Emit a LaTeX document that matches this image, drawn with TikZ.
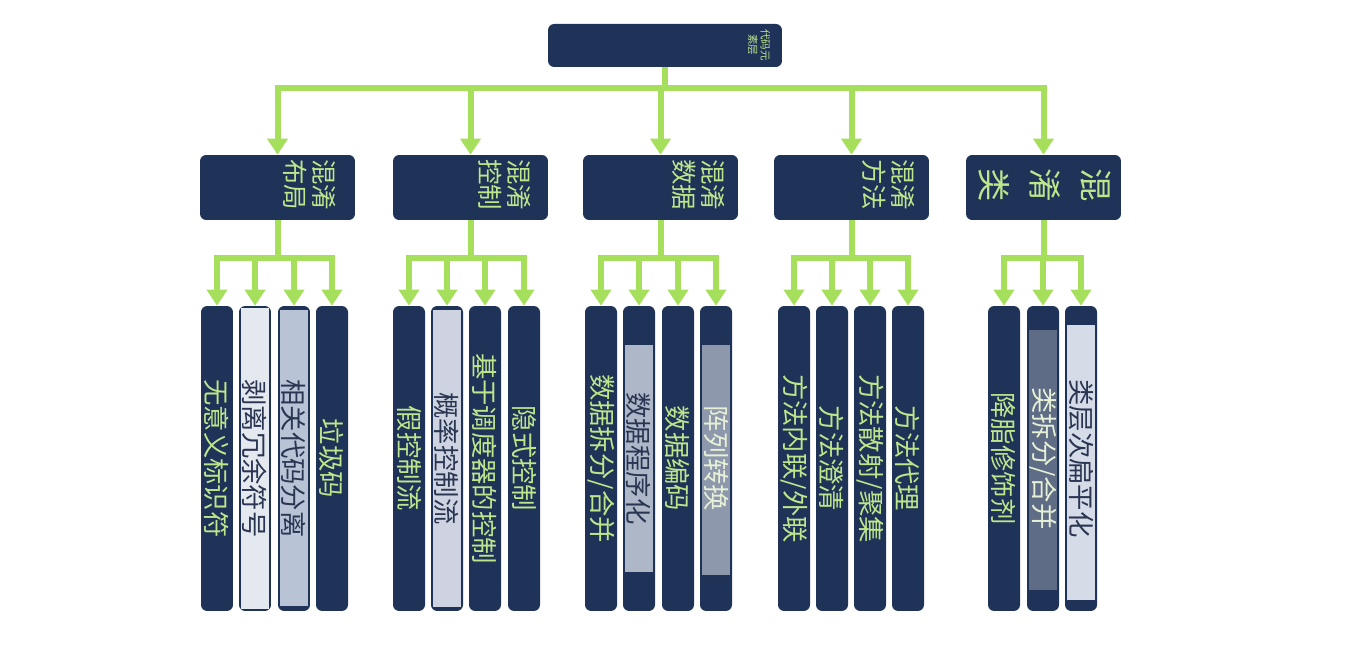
\documentclass[tikz,border=0pt]{standalone}
\usepackage{fontspec}
\newfontfamily\cjk{Noto Sans CJK SC}
\usetikzlibrary{arrows.meta}

\definecolor{navy}{HTML}{1F3257}
\definecolor{lime}{HTML}{A6DF5C}
\definecolor{limetext}{HTML}{BCE68C}
\definecolor{inkdark}{HTML}{2A3552}
\definecolor{paleA}{HTML}{E4E8EF}
\definecolor{paleB}{HTML}{B9C3D6}
\definecolor{paleC}{HTML}{CDD3E0}
\definecolor{paleD}{HTML}{AEB7C8}
\definecolor{greyE}{HTML}{8E98AC}
\definecolor{greyF}{HTML}{5F6C86}
\definecolor{paleG}{HTML}{D5DCE8}
\definecolor{lighttext}{HTML}{E6F0D6}

\tikzset{
    rootbox/.style={fill=navy, rounded corners=3.5pt, minimum width=4.68cm, minimum height=0.86cm, inner sep=0},
    catbox/.style={fill=navy, rounded corners=3.5pt, minimum width=3.1cm, minimum height=1.3cm, inner sep=0},
    leaf/.style={fill=navy, rounded corners=3.5pt, minimum width=0.64cm, minimum height=6.1cm, inner sep=0},
    vtext/.style={font=\cjk\fontsize{15}{17}\selectfont, rotate=-90, text=limetext, inner sep=0},
    cattext/.style={font=\cjk\fontsize{14.5}{16.5}\selectfont, rotate=-90, text=limetext, align=center, inner sep=0},
    link/.style={draw=lime, line width=0.12cm},
    arr/.style={link, -{Triangle[width=0.4cm,length=0.32cm]}}
}

\begin{document}
\begin{tikzpicture}[x=0.02cm, y=-0.02cm]
    \useasboundingbox (0,0) rectangle (1363,648);

    % 根节点
    \node[rootbox] (root) at (665,45.5) {};
    \node[cattext, font=\cjk\fontsize{6}{7}\selectfont] (root-t) at (759,45) {代码元\\素层};

    % 五个类别
    \node[catbox] (catA) at (277.5,187.5) {};
    \node[catbox] (catB) at (470.5,187.5) {};
    \node[catbox] (catC) at (660.5,187.5) {};
    \node[catbox] (catD) at (851.5,187.5) {};
    \node[catbox] (catE) at (1043.5,187.5) {};

    \node[cattext] (catA-t) at (310,185) {混淆\\布局};
    \node[cattext] (catB-t) at (505,185) {混淆\\控制};
    \node[cattext] (catC-t) at (699,185) {混淆\\数据};
    \node[cattext] (catD-t) at (889,185) {混淆\\方法};
    \node[cattext, font=\cjk\fontsize{19}{29}\selectfont] (catE-t) at (1045,185) {混\\淆\\类};

    % 根到类别的连线
    \coordinate (busA) at (0,88);
    \foreach \c in {catA,catB,catC,catD,catE} {
            \draw[arr] (root.south) |- (busA -| \c.north) -- (\c.north);
        }

    % 叶节点: x / 名 / 文字 / 色带上 / 色带下 / 色带颜色 / 文字颜色
    \foreach \x/\nm/\txt/\bt/\bb/\bc/\tc in {
            217/a1/无意义标识符/335/585/navy/limetext,
            255/a2/剥离冗余符号/308/609/paleA/inkdark,
            294/a3/相关代码分离/310/606/paleB/inkdark,
            332/a4/垃圾码/400/505/navy/limetext,
            409/b1/假控制流/350/570/navy/limetext,
            447/b2/概率控制流/310/607/paleC/inkdark,
            485/b3/基于调度器的控制/320/600/navy/limetext,
            524/b4/隐式控制/370/550/navy/limetext,
            601/c1/{数据拆分/合并}/335/580/navy/limetext,
            639/c2/数据程序化/345/572/paleD/inkdark,
            678/c3/数据编码/380/535/navy/limetext,
            716/c4/阵列转换/345/575/greyE/lighttext,
            794/d1/{方法内联/外联}/340/575/navy/limetext,
            832/d2/方法澄清/375/540/navy/limetext,
            870/d3/{方法散射/聚集}/310/607/navy/limetext,
            908/d4/方法代理/380/535/navy/limetext,
            1004/e1/降脂修饰剂/355/565/navy/limetext,
            1043/e2/{类拆分/合并}/330/590/greyF/lighttext,
            1081/e3/类层次扁平化/325/600/paleG/inkdark} {
            \node[leaf] (\nm) at (\x,458.5) {};
            \fill[\bc] (\x-14,\bt) rectangle (\x+14,\bb);
            \node[vtext, text=\tc] (\nm-t) at (\nm) {\txt};
        }

    % 类别到叶节点的连线
    \coordinate (busB) at (0,258);
    \foreach \c/\l in {catA/a1,catA/a2,catA/a3,catA/a4,
            catB/b1,catB/b2,catB/b3,catB/b4,
            catC/c1,catC/c2,catC/c3,catC/c4,
            catD/d1,catD/d2,catD/d3,catD/d4,
            catE/e1,catE/e2,catE/e3} {
            \draw[arr] (\c.south) |- (busB -| \l.north) -- (\l.north);
        }
\end{tikzpicture}
\end{document}
